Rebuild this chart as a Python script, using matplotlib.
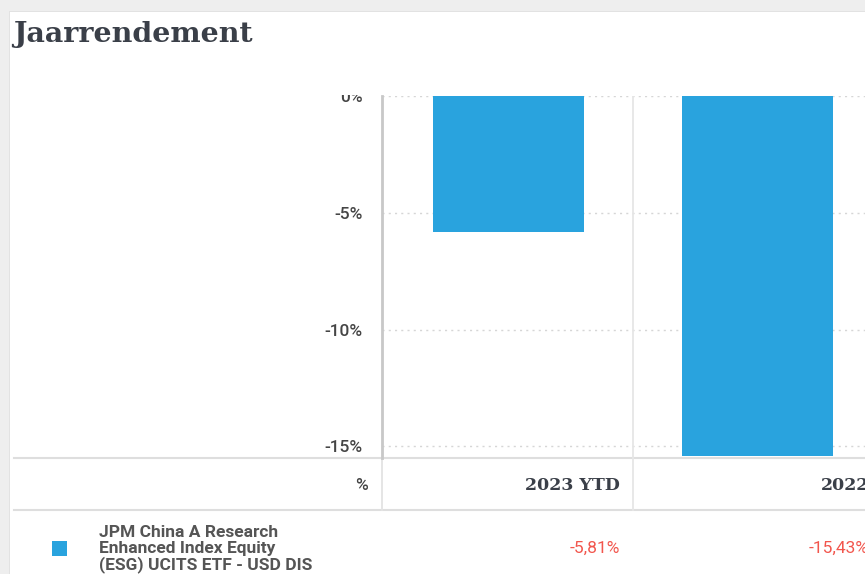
import matplotlib.pyplot as plt
import matplotlib.transforms as mtransforms
from matplotlib.patches import Rectangle
from matplotlib.lines import Line2D

# data
categories = ['2023 YTD', '2022']
rendement = [-5.81, -15.43]
yticks = [0, -5, -10, -15]
fonds = 'JPM China A Research\nEnhanced Index Equity\n(ESG) UCITS ETF - USD DIS'

W, H = 865, 574
BLAUW = '#29a3de'
ROOD = '#f2564d'
GRIJS_TXT = '#454545'
LIJN = '#dedede'

fig = plt.figure(figsize=(W / 100, H / 100), dpi=100)
fig.patch.set_facecolor('#eeeeee')

# achtergrond / kaart in pixelcoordinaten
bg = fig.add_axes([0, 0, 1, 1], zorder=0)
bg.set_xlim(0, W)
bg.set_ylim(H, 0)
bg.axis('off')
bg.add_patch(Rectangle((9, 11), W, H, facecolor='#e2e2e2', edgecolor='none'))
bg.add_patch(Rectangle((10, 12), W, H, facecolor='white', edgecolor='none'))

bg.text(13, 34, 'Jaarrendement', fontsize=20.5, fontweight='bold',
        family='DejaVu Serif', color='#3a3f48', ha='left', va='center')

# staafdiagram
def px(x, y):
    return x / W, 1 - y / H

l, t = px(382, 96)
r, b = px(W, 458)
ax = fig.add_axes([l, b, r - l, t - b], zorder=1)
ax.set_facecolor('none')

x = list(range(len(categories)))
ax.bar(x, rendement, width=0.607, color=BLAUW, zorder=2)
ax.set_xlim(-0.508, -0.508 + (W - 382) / 249)
ax.set_ylim(-15.5, 0)

ax.set_yticks(yticks)
ax.set_yticklabels([f'{v}%' for v in yticks])
ax.tick_params(axis='y', length=0, pad=14, labelsize=12.5, labelcolor=GRIJS_TXT)
for lab in ax.get_yticklabels():
    lab.set_family('Roboto')
    lab.set_fontweight('medium')
ax.set_xticks([])

for v in yticks:
    ax.axhline(v, color='#d6d6d6', lw=1, ls=(0, (1.5, 3)), zorder=1)
for i in range(len(categories)):
    ax.axvline(i + 0.5, color='#e6e6e6', lw=1.3, zorder=1)

for s in ['top', 'right', 'bottom']:
    ax.spines[s].set_visible(False)
ax.spines['left'].set_color('#c8c8c8')
ax.spines['left'].set_linewidth(2)

# bovenkant van de grafiek is afgesneden in de schermafbeelding
fig.add_artist(Rectangle(px(280, 95), 100 / W, 40 / H, transform=fig.transFigure,
                         facecolor='white', edgecolor='none', zorder=10))

# tabel onder de grafiek
tr = mtransforms.blended_transform_factory(ax.transData, bg.transData)

bg.add_line(Line2D([14, W], [458, 458], color=LIJN, lw=1.5))
bg.add_line(Line2D([14, W], [510, 510], color=LIJN, lw=1.5))
bg.add_line(Line2D([382, 382], [458, 510], color='#e3e3e3', lw=1.3))
for i in range(len(categories)):
    bg.add_line(Line2D([i + 0.5, i + 0.5], [458, 510], color='#e6e6e6',
                       lw=1.3, transform=tr))

bg.text(368, 485, '%', fontsize=12.5, family='Roboto', fontweight='medium',
        color=GRIJS_TXT, ha='right', va='center')

off = mtransforms.offset_copy(tr, fig=fig, x=-13, y=0, units='dots')
for i, (cat, v) in enumerate(zip(categories, rendement)):
    bg.text(i + 0.5, 485, cat, transform=off, fontsize=12.5, fontweight='bold',
            family='DejaVu Serif', color='#3a3f48', ha='right', va='center')
    bg.text(i + 0.5, 548, f'{v:.2f}%'.replace('.', ','), transform=off,
            fontsize=12.5, family='Roboto', color=ROOD, ha='right', va='center')

bg.add_patch(Rectangle((52, 541), 15, 15, facecolor=BLAUW, edgecolor='none'))
bg.text(99, 549, fonds, fontsize=12.5, family='Roboto', fontweight='bold',
        color='#555555', ha='left', va='center', linespacing=1.03)

fig.savefig('out.png', dpi=100)
